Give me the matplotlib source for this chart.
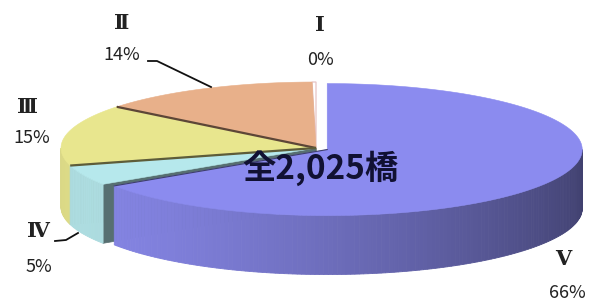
import matplotlib.pyplot as plt
import numpy as np
from matplotlib.patches import Polygon

# bridge counts per soundness rank (total 2,025)
ranks = ['Ⅰ', 'Ⅱ', 'Ⅲ', 'Ⅳ', 'Ⅴ']
counts = [5, 284, 304, 101, 1331]
pct_labels = ['0%', '14%', '15%', '5%', '66%']
colors = ['#ffffff', '#e8b08a', '#e8e68e', '#b6e8ec', '#8b8bef']
explode = [0.0, 0.0, 0.0, 0.0, 0.05]
total_label = '全2,025橋'

fig = plt.figure(figsize=(5.96, 3.04), dpi=100)
ax = fig.add_axes([0, 0, 1, 1])
ax.set_xlim(0, 596)
ax.set_ylim(304, 0)
ax.axis('off')

# pie geometry (pixels)
cx, cy, rx, ry, depth = 316, 148, 255, 66, 59

def pt(th, ox, oy, dz=0.0):
    th = np.radians(th)
    return np.column_stack([ox + cx + rx * np.cos(th), oy + cy - ry * np.sin(th) + dz])

def shade(rgb, f):
    return tuple(np.clip(np.array(rgb) * f, 0, 1))

frac = np.array(counts) / sum(counts)
edges = 90 + 360 * np.concatenate([[0], np.cumsum(frac)])
offs = []
for i in range(len(counts)):
    m = np.radians((edges[i] + edges[i + 1]) / 2)
    offs.append((explode[i] * rx * np.cos(m), -explode[i] * ry * np.sin(m)))

rgbs = [plt.matplotlib.colors.to_rgb(c) for c in colors]

# cut faces (only the ones turned to the viewer)
for i in range(len(counts)):
    ox, oy = offs[i]
    for a, sgn in ((edges[i], -1), (edges[i + 1], 1)):
        normal = np.radians(a + sgn * 90)
        if np.sin(normal) < -0.05:
            p = pt(a, ox, oy)[0]
            c = np.array([cx + ox, cy + oy])
            quad = [c, p, p + [0, depth], c + [0, depth]]
            ax.add_patch(Polygon(quad, closed=True, facecolor=shade(rgbs[i], 0.48),
                                 edgecolor=shade(rgbs[i], 0.48), lw=0.5))

# outer curved walls, shaded by angle
for i in range(len(counts)):
    ox, oy = offs[i]
    s, e = max(edges[i], 180), min(edges[i + 1], 360)
    if e <= s:
        continue
    ts = np.linspace(s, e, int((e - s) / 1.0) + 2)
    for t0, t1 in zip(ts[:-1], ts[1:]):
        f = np.clip(0.7 + 0.25 * np.cos(np.radians((t0 + t1) / 2 - 200)), 0, 0.95)
        a = pt(np.array([t0, t1]), ox, oy)
        quad = np.vstack([a, a[::-1] + [0, depth]])
        col = shade(rgbs[i], f)
        ax.add_patch(Polygon(quad, closed=True, facecolor=col, edgecolor=col, lw=0.6))

# top faces
for i in range(len(counts)):
    ox, oy = offs[i]
    ts = np.linspace(edges[i], edges[i + 1], max(int(edges[i + 1] - edges[i]) + 2, 3))
    poly = np.vstack([[cx + ox, cy + oy], pt(ts, ox, oy)])
    ec = '#e6c4c4' if i == 0 else rgbs[i]
    ax.add_patch(Polygon(poly, closed=True, facecolor=rgbs[i], edgecolor=ec,
                         lw=0.9 if i == 0 else 0.4))

# dividing lines on the top
for i in (1, 2):
    ox, oy = offs[i]
    p = pt(edges[i + 1], ox, oy)[0]
    ax.plot([cx + ox, p[0]], [cy + oy, p[1]], color=shade(rgbs[i], 0.4), lw=1.6,
            solid_capstyle='butt')
ox, oy = offs[4]
p = pt(edges[4], ox, oy)[0]
ax.plot([cx + ox, p[0]], [cy + oy, p[1]], color=shade(rgbs[4], 0.45), lw=0.8)

# labels
num_font = ['DejaVu Serif', 'Noto Sans CJK JP']
pct_font = ['Noto Sans CJK JP', 'DejaVu Sans']
num_pos = [(320, 25), (122, 23), (28, 107), (38, 231), (563, 259)]
pct_pos = [(320, 60), (122, 55), (32, 138), (39, 267), (567, 293)]
for r, pl, npos, ppos in zip(ranks, pct_labels, num_pos, pct_pos):
    ax.text(*npos, r, family=num_font, fontsize=15, fontweight='bold',
            ha='center', va='center', color='#222222')
    ax.text(*ppos, pl, family=pct_font, fontsize=13, ha='center', va='center',
            color='#222222')

# leader lines
ax.plot([148, 157, 211], [61, 61, 87], color='#111111', lw=1.3)
ax.plot([55, 66, 78], [241, 240, 233], color='#111111', lw=1.3)

ax.text(320, 168, total_label, family=pct_font, fontsize=24, fontweight='bold',
        ha='center', va='center', color='#111133')

fig.savefig('out.png', dpi=100)
